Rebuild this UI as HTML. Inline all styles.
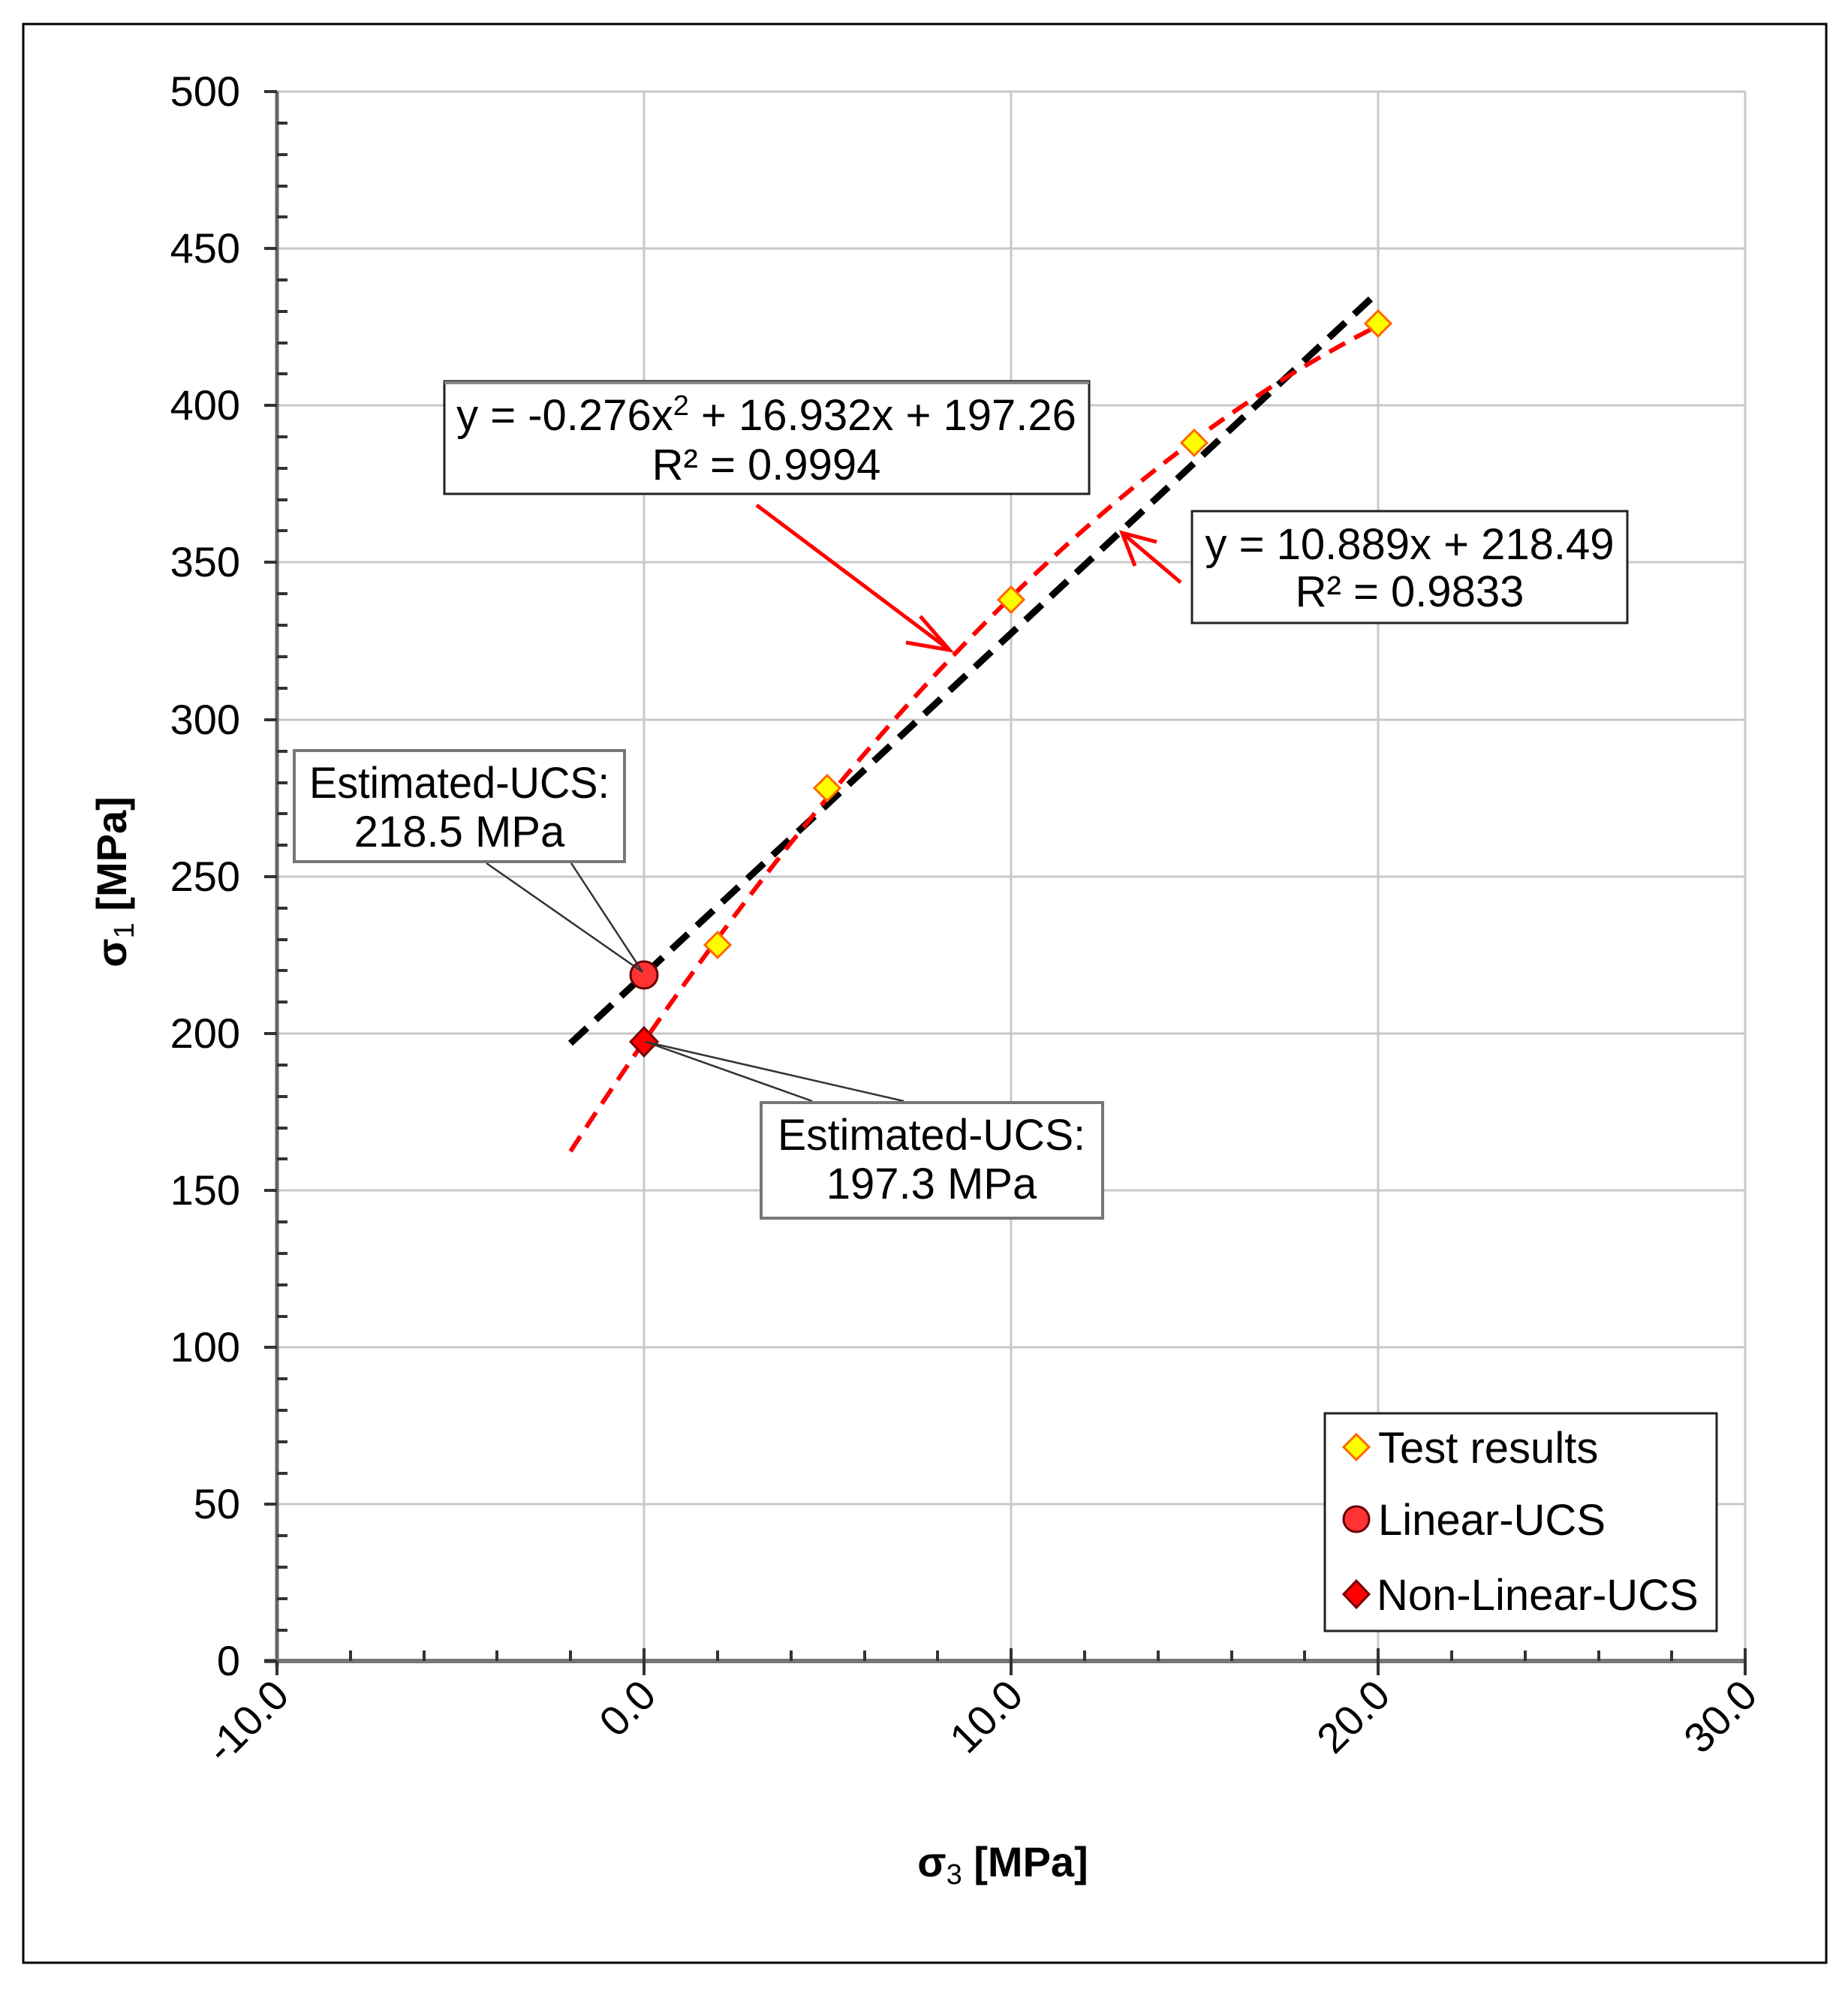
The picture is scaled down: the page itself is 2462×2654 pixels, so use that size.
<!DOCTYPE html>
<html><head><meta charset="utf-8"><style>html,body{margin:0;padding:0;background:#fff}svg{display:block}</style></head>
<body>
<svg width="2462" height="2654" viewBox="0 0 2462 2654" xmlns="http://www.w3.org/2000/svg" font-family="Liberation Sans, Arial, sans-serif">
<rect x="0" y="0" width="2462" height="2654" fill="#fff"/>
<rect x="31" y="32" width="2402" height="2583" fill="none" stroke="#000" stroke-width="3"/>
<g stroke="#c8c8c8" stroke-width="3">
<line x1="369" y1="122" x2="2325" y2="122"/><line x1="369" y1="331" x2="2325" y2="331"/><line x1="369" y1="540" x2="2325" y2="540"/><line x1="369" y1="749" x2="2325" y2="749"/><line x1="369" y1="959" x2="2325" y2="959"/><line x1="369" y1="1168" x2="2325" y2="1168"/><line x1="369" y1="1377" x2="2325" y2="1377"/><line x1="369" y1="1586" x2="2325" y2="1586"/><line x1="369" y1="1795" x2="2325" y2="1795"/><line x1="369" y1="2004" x2="2325" y2="2004"/>
<line x1="858" y1="122" x2="858" y2="2213"/><line x1="1347" y1="122" x2="1347" y2="2213"/><line x1="1836" y1="122" x2="1836" y2="2213"/><line x1="2325" y1="122" x2="2325" y2="2213"/>
</g>
<g stroke="#555" stroke-width="4" id="yt"></g>
<line x1="369" y1="122" x2="369" y2="2220" stroke="#666" stroke-width="5"/>
<line x1="352" y1="2213" x2="2327" y2="2213" stroke="#777" stroke-width="6"/>
<g stroke="#333" stroke-width="4">
<path d="M352 122H369M352 331H369M352 540H369M352 749H369M352 959H369M352 1168H369M352 1377H369M352 1586H369M352 1795H369M352 2004H369M352 2213H369"/>
<path d="M369 164H383M369 206H383M369 248H383M369 289H383M369 373H383M369 415H383M369 457H383M369 498H383M369 582H383M369 624H383M369 666H383M369 707H383M369 791H383M369 833H383M369 875H383M369 917H383M369 1001H383M369 1043H383M369 1084H383M369 1126H383M369 1210H383M369 1252H383M369 1293H383M369 1335H383M369 1419H383M369 1461H383M369 1503H383M369 1544H383M369 1628H383M369 1670H383M369 1712H383M369 1754H383M369 1837H383M369 1879H383M369 1921H383M369 1963H383M369 2046H383M369 2088H383M369 2130H383M369 2172H383"/>
<path d="M369 2213V2232M858 2196V2232M1347 2196V2232M1836 2196V2232M2325 2196V2232"/>
<path d="M467 2213V2199M565 2213V2199M662 2213V2199M760 2213V2199M956 2213V2199M1054 2213V2199M1152 2213V2199M1249 2213V2199M1445 2213V2199M1543 2213V2199M1641 2213V2199M1738 2213V2199M1934 2213V2199M2032 2213V2199M2130 2213V2199M2227 2213V2199"/>
</g>
<g font-size="56" text-anchor="end" fill="#000">
<text x="320" y="141">500</text><text x="320" y="350">450</text><text x="320" y="559">400</text><text x="320" y="768">350</text><text x="320" y="978">300</text><text x="320" y="1187">250</text><text x="320" y="1396">200</text><text x="320" y="1605">150</text><text x="320" y="1814">100</text><text x="320" y="2023">50</text><text x="320" y="2232">0</text>
</g>
<g font-size="56" text-anchor="end" fill="#000">
<text transform="translate(388,2262) rotate(-45)">-10.0</text>
<text transform="translate(877,2262) rotate(-45)">0.0</text>
<text transform="translate(1366,2262) rotate(-45)">10.0</text>
<text transform="translate(1855,2262) rotate(-45)">20.0</text>
<text transform="translate(2344,2262) rotate(-45)">30.0</text>
</g>
<text transform="translate(168,1175) rotate(-90)" font-size="56" font-weight="bold" text-anchor="middle">σ<tspan font-size="38" dy="10" font-weight="normal">1</tspan><tspan dy="-10"> [MPa]</tspan></text>
<text x="1336" y="2500" font-size="56" font-weight="bold" text-anchor="middle">σ<tspan font-size="38" dy="10" font-weight="normal">3</tspan><tspan dy="-10"> [MPa]</tspan></text>
<!-- fits -->
<line x1="760" y1="1390" x2="1836" y2="389" stroke="#000" stroke-width="9" stroke-dasharray="30 16"/>
<path d="M760 1534 Q1298 705 1836 434" fill="none" stroke="#ff0000" stroke-width="6" stroke-dasharray="24 14"/>
<!-- points -->
<g fill="#ffff00" stroke="#ff6600" stroke-width="3">
<path d="M956 1242l17 17-17 17-17-17z"/>
<path d="M1102 1033l17 17-17 17-17-17z"/>
<path d="M1347 782l17 17-17 17-17-17z"/>
<path d="M1591 573l17 17-17 17-17-17z"/>
<path d="M1836 414l17 17-17 17-17-17z"/>
</g>
<circle cx="858" cy="1299" r="18" fill="#ff3333" stroke="#600" stroke-width="3"/>
<path d="M858 1369l18 19-18 19-18-19z" fill="#ff0000" stroke="#700" stroke-width="3"/>
<!-- callouts -->
<g stroke="#333" stroke-width="2.5" fill="none">
<path d="M648 1150L856 1295L761 1150"/>
<path d="M1082 1467L860 1388L1204 1467"/>
</g>
<g stroke="#777" stroke-width="4" fill="#fff">
<rect x="392" y="1000" width="440" height="148"/>
<rect x="1014" y="1469" width="455" height="154"/>
</g>
<g stroke="#222" stroke-width="3" fill="#fff">
<rect x="592" y="508" width="859" height="150"/>
<rect x="1588" y="681" width="580" height="149"/>
</g>
<rect x="592" y="508" width="859" height="4" fill="#888"/>
<g font-size="58" text-anchor="middle" fill="#000">
<text x="612" y="1063" textLength="400" lengthAdjust="spacingAndGlyphs">Estimated-UCS:</text>
<text x="612" y="1128">218.5 MPa</text>
<text x="1241" y="1532" textLength="410" lengthAdjust="spacingAndGlyphs">Estimated-UCS:</text>
<text x="1241" y="1597">197.3 MPa</text>
<text x="1021" y="573">y = -0.276x<tspan font-size="38" dy="-20">2</tspan><tspan dy="20"> + 16.932x + 197.26</tspan></text>
<text x="1021" y="639">R² = 0.9994</text>
<text x="1878" y="745">y = 10.889x + 218.49</text>
<text x="1878" y="808">R² = 0.9833</text>
</g>
<!-- arrows -->
<g stroke="#ff0000" stroke-width="5" fill="none">
<path d="M1008 673L1265 866M1226 821L1265 866L1207 856"/>
<path d="M1573 776L1495 710M1512 754L1495 710L1541 722"/>
</g>
<!-- legend -->
<rect x="1765" y="1883" width="522" height="290" fill="#fff" stroke="#222" stroke-width="3"/>
<path d="M1807 1911l17 17-17 17-17-17z" fill="#ffff00" stroke="#ff6600" stroke-width="3"/>
<circle cx="1807" cy="2024" r="17" fill="#ff3333" stroke="#600" stroke-width="3"/>
<path d="M1807 2106l17 18-17 18-17-18z" fill="#ff0000" stroke="#700" stroke-width="3"/>
<g font-size="58" fill="#000">
<text x="1836" y="1949">Test results</text>
<text x="1836" y="2045">Linear-UCS</text>
<text x="1834" y="2145">Non-Linear-UCS</text>
</g>
</svg>
</body></html>
